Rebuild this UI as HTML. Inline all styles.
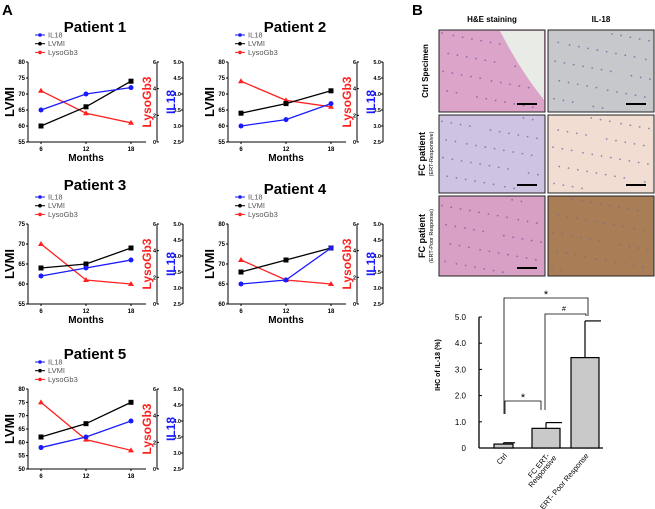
<!DOCTYPE html>
<html><head><meta charset="utf-8"><style>
body{margin:0;background:#fff;}
svg{display:block;font-family:"Liberation Sans",Arial,sans-serif;}
</style></head><body>
<svg id="fig" width="655" height="509" viewBox="0 0 655 509">
<text x="2" y="15" font-size="15" font-weight="bold">A</text>
<text x="412" y="15" font-size="15" font-weight="bold">B</text>
<g id="lines"></g>
<g id="histo"></g>
<g id="bars"></g>
</svg>
<script>
// ---- Panel A data ----
const months = [6, 12, 18];
const patientNames = ["Patient 1", "Patient 2", "Patient 3", "Patient 4", "Patient 5"];
const lvmi1 = [60, 66, 74], il18_1 = [3.5, 4.0, 4.2], lyso1 = [3.84, 2.16, 1.44];
const lvmi2 = [64, 67, 71], il18_2 = [3.0, 3.2, 3.7], lyso2 = [4.56, 3.12, 2.64];
const lvmi3 = [64, 65, 69], il18_3 = [3.375, 3.625, 3.875], lyso3 = [4.5, 1.8, 1.5];
const lvmi4 = [68, 71, 74], il18_4 = [3.125, 3.25, 4.25], lyso4 = [3.3, 1.8, 1.5];
const lvmi5 = [62, 67, 75], il18_5 = [3.17, 3.5, 4.0], lyso5 = [5.0, 2.2, 1.4];
const lvmiTicks1 = [55, 60, 65, 70, 75, 80];
const lvmiTicks3 = [55, 60, 65, 70, 75];
const lvmiTicks4 = [60, 65, 70, 75, 80];
const lvmiTicks5 = [50, 55, 60, 65, 70, 75, 80];
const lysoTicks = [0, 2, 4, 6];
const il18Ticks = [2.5, 3.0, 3.5, 4.0, 4.5, 5.0];
// ---- Panel B bar data ----
const barCats = ["Ctrl", "FC  ERT-|Responsive", "FC  ERT- Poor Response"];
const barVals = [0.15, 0.75, 3.45];
const barErr = [0.2, 0.97, 4.85];
const barTicks = [0, 1, 2, 3, 4, 5];
const barTickLabels = ["0", "1.0", "2.0", "3.0", "4.0", "5.0"];

const NS = "http://www.w3.org/2000/svg";
function mk(tag, attrs, parent, txt) {
  const e = document.createElementNS(NS, tag);
  for (const k in attrs) e.setAttribute(k, attrs[k]);
  if (txt !== undefined) e.textContent = txt;
  parent.appendChild(e);
  return e;
}

const panels = [
  {ox:0, oy:0, lv:lvmi1, il:il18_1, ly:lyso1, ticks:lvmiTicks1, months:true, ty:32},
  {ox:200, oy:0, lv:lvmi2, il:il18_2, ly:lyso2, ticks:lvmiTicks1, months:true, ty:32},
  {ox:0, oy:162, lv:lvmi3, il:il18_3, ly:lyso3, ticks:lvmiTicks3, months:true, ty:28},
  {ox:200, oy:162, lv:lvmi4, il:il18_4, ly:lyso4, ticks:lvmiTicks4, months:true, ty:32},
  {ox:0, oy:327, lv:lvmi5, il:il18_5, ly:lyso5, ticks:lvmiTicks5, months:false, ty:32}
];
const lines = document.getElementById("lines");
panels.forEach((p, i) => {
  const g = mk("g", {}, lines);
  
  
  const ax = p.ox + 28, top = p.oy + 62, bot = p.oy + 142;
  const lo = p.ticks[0], hi = p.ticks[p.ticks.length - 1];
  const yL = v => bot - (v - lo) / (hi - lo) * (bot - top);
  const yLy = v => bot - v / 6 * (bot - top);
  const yIl = v => bot - (v - 2.5) / 2.5 * (bot - top);
  const x = m => p.ox + 41 + (m - 6) / 12 * 90;
  const t = mk("text", {x:p.ox + 95, y:p.oy + p.ty, "font-size":15, "font-weight":"bold", "text-anchor":"middle"}, g, patientNames[i]);
  
  
  const leg = [["IL18", "#1a1aff"], ["LVMI", "#000"], ["LysoGb3", "#ff2020"]];
  leg.forEach((l, j) => {
    const ly = p.oy + 35 + j * 8.7;
    const lg = mk("g", {}, g);
    
    
    mk("line", {x1:p.ox + 35, x2:p.ox + 45, y1:ly, y2:ly, stroke:l[1], "stroke-width":1}, lg);
    mk("circle", {cx:p.ox + 40, cy:ly, r:1.8, fill:l[1]}, lg);
    mk("text", {x:p.ox + 48, y:ly + 2.5, "font-size":7.5, fill:"#555"}, lg, l[0]);
  });
  mk("line", {x1:ax, x2:ax, y1:top, y2:bot, stroke:"#000", "stroke-width":1}, g);
  mk("line", {x1:ax, x2:p.ox + 146, y1:bot, y2:bot, stroke:"#000", "stroke-width":1}, g);
  p.ticks.forEach(v => {
    mk("line", {x1:ax - 2, x2:ax, y1:yL(v), y2:yL(v), stroke:"#000"}, g);
    mk("text", {x:ax - 3, y:yL(v) + 2, "font-size":6, "text-anchor":"end", "font-weight":"bold"}, g, v);
  });
  months.forEach(m => {
    mk("line", {x1:x(m), x2:x(m), y1:bot, y2:bot + 2, stroke:"#000"}, g);
    mk("text", {x:x(m), y:bot + 9, "font-size":6, "text-anchor":"middle", "font-weight":"bold"}, g, m);
  });
  if (p.months) {
    const mt = mk("text", {x:p.ox + 86, y:bot + 19, "font-size":10, "font-weight":"bold", "text-anchor":"middle"}, g, "Months");
    
    
  }
  const yt = mk("text", {transform:`translate(${p.ox + 14},${(top + bot) / 2}) rotate(-90)`, "font-size":13, "font-weight":"bold", "text-anchor":"middle"}, g, "LVMI");
  
  
  const rx = p.ox + 157;
  mk("line", {x1:rx, x2:rx, y1:top, y2:bot, stroke:"#000"}, g);
  lysoTicks.forEach(v => {
    mk("line", {x1:rx, x2:rx + 2, y1:yLy(v), y2:yLy(v), stroke:"#000"}, g);
    mk("text", {x:rx - 1, y:yLy(v) + 2, "font-size":5.5, "text-anchor":"end", "font-weight":"bold"}, g, v);
  });
  const lt = mk("text", {transform:`translate(${p.ox + 151},${(top + bot) / 2}) rotate(-90)`, "font-size":12, "font-weight":"bold", "text-anchor":"middle", fill:"#ff2020"}, g, "LysoGb3");
  
  
  const ix = p.ox + 183;
  mk("line", {x1:ix, x2:ix, y1:top, y2:bot, stroke:"#000"}, g);
  il18Ticks.forEach(v => {
    mk("line", {x1:ix - 2, x2:ix, y1:yIl(v), y2:yIl(v), stroke:"#000"}, g);
    mk("text", {x:ix - 2, y:yIl(v) + 2, "font-size":5.5, "text-anchor":"end", "font-weight":"bold"}, g, v.toFixed(1));
  });
  const it = mk("text", {transform:`translate(${p.ox + 175},${(top + bot) / 2}) rotate(-90)`, "font-size":12, "font-weight":"bold", "text-anchor":"middle", fill:"#1a1aff"}, g, "IL18");
  
  
  const series = [[p.ly, yLy, "#ff2020", "lysogb3"], [p.lv, yL, "#000", "lvmi"], [p.il, yIl, "#1a1aff", "il18"]];
  series.forEach(s => {
    const pts = months.map((m, k) => x(m) + "," + s[1](s[0][k])).join(" ");
    const pl = mk("polyline", {points:pts, fill:"none", stroke:s[2], "stroke-width":1.3}, g);
    
    
    months.forEach((m, k) => {
      const cx = x(m), cy = s[1](s[0][k]);
      let mark;
      if (s[3] === "lvmi") mark = mk("rect", {x:cx - 2.5, y:cy - 2.5, width:5, height:5, fill:s[2]}, g);
      else if (s[3] === "il18") mark = mk("circle", {cx:cx, cy:cy, r:2.5, fill:s[2]}, g);
      else mark = mk("polygon", {points:`${cx},${cy - 3} ${cx - 3},${cy + 2} ${cx + 3},${cy + 2}`, fill:s[2]}, g);
      
      
    });
  });
});

// ---- Histology ----
const histo = document.getElementById("histo");
mk("text", {x:492, y:22, "font-size":8, "font-weight":"bold", "text-anchor":"middle"}, histo, "H&E staining");
mk("text", {x:601, y:22, "font-size":8, "font-weight":"bold", "text-anchor":"middle"}, histo, "IL-18");
const rows = [[30, 112], [115, 193], [196, 276]];
const cols = [[439, 545], [548, 654]];
const fills = [["#dba4c8", "#c6c8cc"], ["#cfc3e2", "#f1ddd2"], ["#d7a0c4", "#a97d55"]];
const rowLabels = [["Ctrl Specimen", ""], ["FC patient", "(ERT-Responsive)"], ["FC patient", "(ERT-Poor Response)"]];
rows.forEach((r, i) => {
  cols.forEach((c, j) => {
    const im = mk("rect", {x:c[0], y:r[0], width:c[1] - c[0], height:r[1] - r[0], fill:fills[i][j], stroke:"#222", "stroke-width":1}, histo);
    
    
    for (let k = 0; k < 40; k++) {
      const dx = ((k * 37 + i * 13 + j * 7) % 97) / 97, dy = ((k * 53 + i * 29 + j * 11) % 89) / 89;
      mk("circle", {cx:c[0] + 3 + dx * (c[1] - c[0] - 6), cy:r[0] + 3 + dy * (r[1] - r[0] - 6), r:0.9, fill:(i === 2 && j === 1) ? "#6a6a8a" : "#5a4a9a", opacity:0.6}, histo);
    }
    if (i < 2 || j === 0) mk("line", {x1:c[1] - 28, x2:c[1] - 8, y1:r[1] - 8, y2:r[1] - 8, stroke:"#000", "stroke-width":2}, histo);
  });
  const cy = (r[0] + r[1]) / 2;
  const lab = mk("text", {transform:`translate(${rowLabels[i][1] ? 425 : 428},${cy}) rotate(-90)`, "font-size":i ? 9 : 8, "font-weight":"bold", "text-anchor":"middle"}, histo, rowLabels[i][0]);
  
  
  if (rowLabels[i][1]) mk("text", {transform:`translate(${433},${cy}) rotate(-90)`, "font-size":5.5, "text-anchor":"middle"}, histo, rowLabels[i][1]);
});
mk("path", {d:"M 500 31 L 544 31 L 544 100 Q 520 70 500 31 Z", fill:"#e8ebe6"}, histo);

// ---- Bar chart ----
const bars = document.getElementById("bars");
const bx0 = 479, bTop = 317, bBot = 448;
const yb = v => bBot - v / 5 * (bBot - bTop);
const barX = [494, 532, 571], barW = [19, 28, 28];
mk("line", {x1:bx0, x2:bx0, y1:bTop, y2:bBot, stroke:"#000", "stroke-width":1.3}, bars);
mk("line", {x1:bx0, x2:603, y1:bBot, y2:bBot, stroke:"#000", "stroke-width":1.3}, bars);
barTicks.forEach((v, k) => {
  mk("line", {x1:bx0, x2:bx0 + 3, y1:yb(v), y2:yb(v), stroke:"#000"}, bars);
  mk("text", {x:bx0 - 13, y:yb(v) + 3, "font-size":8, "text-anchor":"end"}, bars, barTickLabels[k]);
});
const ylab = mk("text", {transform:"translate(440,365) rotate(-90)", "font-size":7, "font-weight":"bold", "text-anchor":"middle"}, bars, "IHC of IL-18 (%)");


barVals.forEach((v, k) => {
  const cx = barX[k] + barW[k] / 2;
  mk("line", {x1:cx, x2:cx, y1:yb(v), y2:yb(barErr[k]), stroke:"#000", "stroke-width":1.2}, bars);
  mk("line", {x1:cx, x2:barX[k] + barW[k] + 2, y1:yb(barErr[k]), y2:yb(barErr[k]), stroke:"#000", "stroke-width":1.2}, bars);
  const b = mk("rect", {x:barX[k], y:yb(v), width:barW[k], height:bBot - yb(v), fill:"#c9c9c9", stroke:"#000", "stroke-width":1.2}, bars);
  
  
  const parts = barCats[k].split("|");
  const tl = mk("text", {transform:`translate(${cx + 4},${bBot + 8}) rotate(-50)`, "font-size":7.5, "text-anchor":"end"}, bars, parts[0]);
  
  
  if (parts[1]) mk("text", {transform:`translate(${cx + 11},${bBot + 10}) rotate(-50)`, "font-size":7.5, "text-anchor":"end"}, bars, parts[1]);
});
mk("polyline", {points:"505,414 505,401 541,401 541,410", fill:"none", stroke:"#000", "stroke-width":0.8}, bars);
mk("text", {x:523, y:401, "font-size":11, "text-anchor":"middle"}, bars, "*");
mk("polyline", {points:"504,414 504,298 588,298 588,316", fill:"none", stroke:"#000", "stroke-width":0.8}, bars);
mk("text", {x:546, y:298, "font-size":11, "text-anchor":"middle"}, bars, "*");
mk("polyline", {points:"545,410 545,314 586,314 586,316", fill:"none", stroke:"#000", "stroke-width":0.8}, bars);
mk("text", {x:564, y:311, "font-size":7, "text-anchor":"middle"}, bars, "#");
</script>
</body></html>
